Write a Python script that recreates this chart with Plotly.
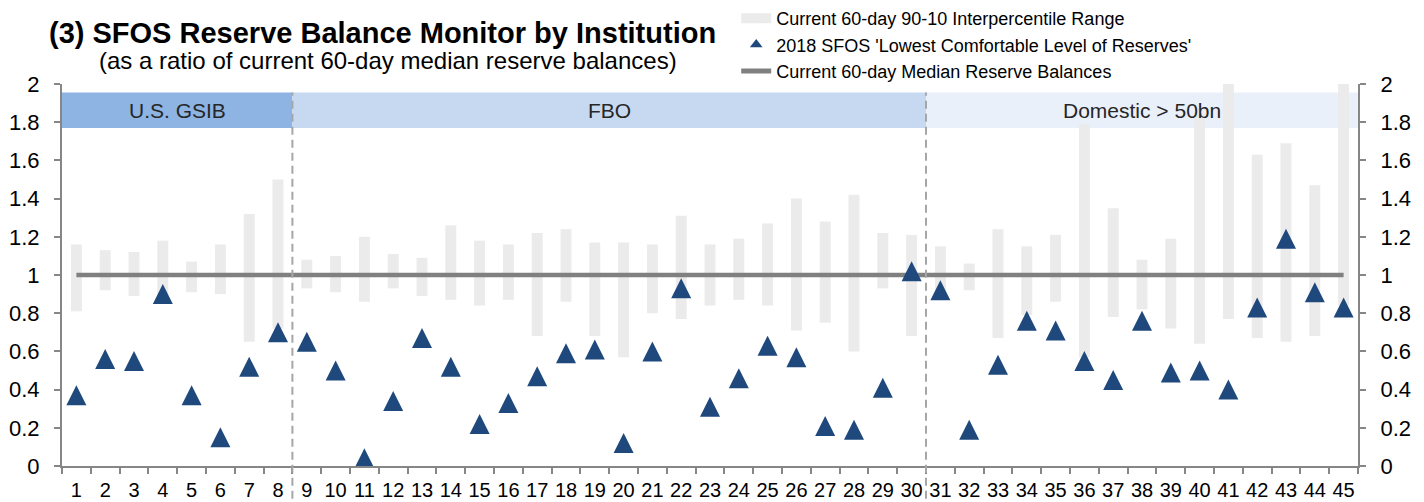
import plotly.graph_objects as go

# ---------------- data ----------------
institutions = list(range(1, 46))
tick_labels = [str(i) for i in institutions]

# 90th percentile (top of range bar)
p90 = [1.16, 1.13, 1.12, 1.18, 1.07, 1.16, 1.32, 1.50,
       1.08, 1.10, 1.20, 1.11, 1.09, 1.26, 1.18, 1.16, 1.22, 1.24, 1.17, 1.17, 1.16,
       1.31, 1.16, 1.19, 1.27, 1.40, 1.28, 1.42, 1.22, 1.21,
       1.15, 1.06, 1.24, 1.15, 1.21, 1.79, 1.35, 1.08, 1.19, 1.85, 2.00, 1.63, 1.69, 1.47, 2.00]
# 10th percentile (bottom of range bar)
p10 = [0.81, 0.92, 0.89, 0.88, 0.91, 0.90, 0.65, 0.72,
       0.93, 0.91, 0.86, 0.93, 0.89, 0.87, 0.84, 0.87, 0.68, 0.86, 0.68, 0.57, 0.80,
       0.77, 0.84, 0.87, 0.84, 0.71, 0.75, 0.60, 0.93, 0.68,
       0.90, 0.92, 0.67, 0.79, 0.86, 0.57, 0.78, 0.82, 0.72, 0.64, 0.77, 0.67, 0.65, 0.68, 0.84]
# 2018 SFOS lowest comfortable level of reserves
lowest = [0.37, 0.56, 0.55, 0.90, 0.37, 0.15, 0.52, 0.70,
          0.65, 0.50, 0.04, 0.34, 0.67, 0.52, 0.22, 0.33, 0.47, 0.59, 0.61, 0.12, 0.60,
          0.93, 0.31, 0.46, 0.63, 0.57, 0.21, 0.19, 0.41, 1.02,
          0.92, 0.19, 0.53, 0.76, 0.71, 0.55, 0.45, 0.76, 0.49, 0.50, 0.40, 0.83, 1.19, 0.91, 0.83]
# current 60-day median (ratio = 1 by construction)
median = [1.0] * 45

group_names = ["U.S. GSIB", "FBO", "Domestic > 50bn"]
group_first = [1, 9, 31]
group_last = [8, 30, 45]

y_tickvals = [0, 0.2, 0.4, 0.6, 0.8, 1.0, 1.2, 1.4, 1.6, 1.8, 2.0]
y_ticktext = ["0", "0.2", "0.4", "0.6", "0.8", "1", "1.2", "1.4", "1.6", "1.8", "2"]

# ---------------- styles ----------------
FONT = "Liberation Sans, Arial, sans-serif"
AXIS_GREY = "#868686"
BAR_GREY = "#EBEBEB"
TRI_BLUE = "#1F497D"
MED_GREY = "#808080"
group_colors = ["#8DB4E2", "#C6D9F1", "#EAF0FA"]
BAND_BASE = 1.77
BAND_H = 0.185

fig = go.Figure()

# category group header bands
fig.add_trace(go.Bar(
    x=[(f + l) / 2 for f, l in zip(group_first, group_last)],
    y=[BAND_H] * len(group_names),
    base=[BAND_BASE] * len(group_names),
    width=[l - f + 1 for f, l in zip(group_first, group_last)],
    marker=dict(color=group_colors, line=dict(width=0)),
    hoverinfo="skip",
    showlegend=False,
    yaxis="y",
))

# 90-10 range bars
fig.add_trace(go.Bar(
    x=institutions,
    y=[t - b for t, b in zip(p90, p10)],
    base=p10,
    width=0.38,
    marker=dict(color=BAR_GREY, line=dict(width=0)),
    showlegend=False,
    yaxis="y",
))

# median line
fig.add_trace(go.Scatter(
    x=institutions, y=median, mode="lines",
    line=dict(color=MED_GREY, width=4.7),
    showlegend=False, yaxis="y",
))

# triangles (on overlaid axis so they sit on top)
fig.add_trace(go.Scatter(
    x=institutions, y=lowest, mode="markers",
    marker=dict(symbol="arrow-down", angle=180, size=20, standoff=10,
                color=TRI_BLUE, line=dict(width=0)),
    showlegend=False, yaxis="y2",
))

# legend entries
fig.add_trace(go.Scatter(
    x=[None], y=[None], mode="lines",
    line=dict(color=BAR_GREY, width=10),
    name="Current 60-day 90-10 Interpercentile Range",
))
fig.add_trace(go.Scatter(
    x=[None], y=[None], mode="markers",
    marker=dict(symbol="triangle-up", size=11, color=TRI_BLUE),
    name="2018 SFOS 'Lowest Comfortable Level of Reserves'",
))
fig.add_trace(go.Scatter(
    x=[None], y=[None], mode="lines",
    line=dict(color=MED_GREY, width=5),
    name="Current 60-day Median Reserve Balances",
))

# dashed group separators
shapes = []
for l in group_last[:-1]:
    shapes.append(dict(
        type="line", xref="x", yref="paper",
        x0=l + 0.5, x1=l + 0.5, y0=-0.12, y1=(BAND_BASE + BAND_H) / 2,
        line=dict(color="#A6A6A6", width=2, dash="8px,5px"),
        layer="above",
    ))

annotations = [
    dict(text="<b>(3) SFOS Reserve Balance Monitor by Institution</b>",
         xref="paper", yref="paper", x=-0.0116, y=1.133,
         xanchor="left", yanchor="middle", showarrow=False,
         font=dict(family=FONT, size=29, color="#000000")),
    dict(text="(as a ratio of current 60-day median reserve balances)",
         xref="paper", yref="paper", x=0.027, y=1.062,
         xanchor="left", yanchor="middle", showarrow=False,
         font=dict(family=FONT, size=24, color="#000000")),
]
for name, f, l in zip(group_names, group_first, group_last):
    annotations.append(dict(
        text=name, xref="x", yref="y", x=(f + l) / 2, y=BAND_BASE + BAND_H / 2,
        xanchor="center", yanchor="middle", showarrow=False,
        font=dict(family=FONT, size=21, color="#262626"),
    ))

yaxis_common = dict(
    range=[0, 2],
    tickvals=y_tickvals, ticktext=y_ticktext,
    ticks="outside", ticklen=6, tickwidth=2, tickcolor=AXIS_GREY,
    showline=True, linecolor=AXIS_GREY, linewidth=2,
    showgrid=False, zeroline=False,
    tickfont=dict(family=FONT, size=22, color="#000000"),
    ticklabelstandoff=10,
    fixedrange=True,
    automargin=False,
)

fig.update_layout(
    width=1424, height=502,
    margin=dict(l=62, r=66, t=84, b=36, autoexpand=False),
    paper_bgcolor="white", plot_bgcolor="white",
    barmode="overlay",
    font=dict(family=FONT, color="#000000"),
    xaxis=dict(
        range=[0.5, 45.5],
        tickvals=institutions, ticktext=tick_labels,
        tickangle=0,
        ticks="outside", ticklen=0,
        showline=True, linecolor=AXIS_GREY, linewidth=2,
        showgrid=False, zeroline=False,
        tickfont=dict(family=FONT, size=20, color="#000000"),
        ticklabelstandoff=5,
        automargin=False,
        minor=dict(tick0=0.5, dtick=1, ticks="outside", ticklen=6,
                   tickwidth=2, tickcolor=AXIS_GREY, showgrid=False),
    ),
    yaxis=yaxis_common,
    yaxis2=dict(yaxis_common, overlaying="y", side="right"),
    legend=dict(
        xref="container", yref="container",
        x=0.517, y=1.0, xanchor="left", yanchor="top",
        font=dict(family=FONT, size=18, color="#000000"),
        bgcolor="rgba(0,0,0,0)", tracegroupgap=0,
        itemwidth=30,
    ),
    shapes=shapes,
    annotations=annotations,
)

fig.write_html("out.html", config={"displayModeBar": False},
               post_script="document.body.style.margin='0';")
